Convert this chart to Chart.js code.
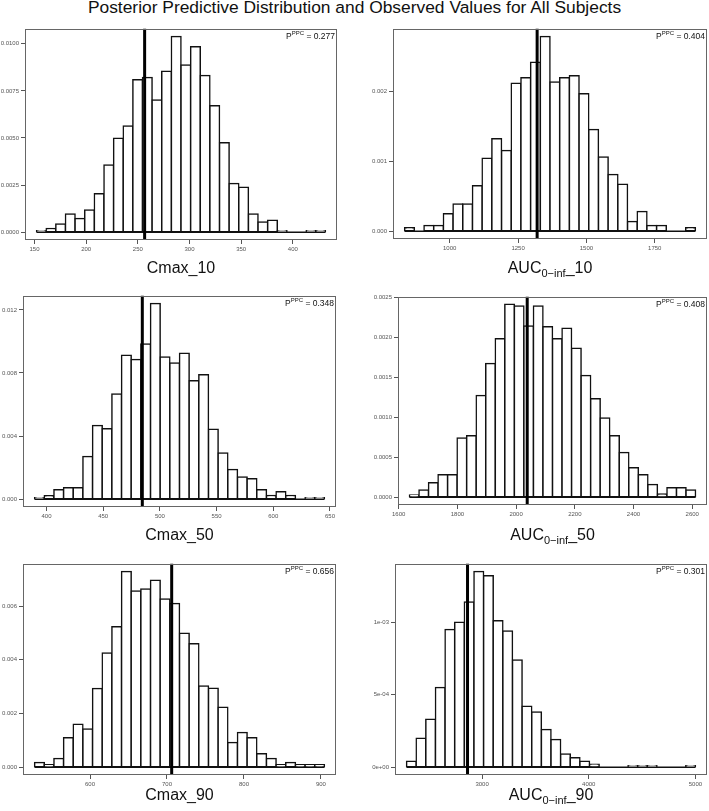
<!DOCTYPE html>
<html>
<head>
<meta charset="utf-8">
<script src="https://cdn.jsdelivr.net/npm/chart.js@4.4.1/dist/chart.umd.min.js"></script>
<style>
html,body{margin:0;padding:0;background:#fff;}
body{width:709px;height:811px;position:relative;overflow:hidden;font-family:"Liberation Sans",Arial,sans-serif;}
#title{position:absolute;left:0;top:-1px;width:709px;text-align:center;font-size:17.4px;line-height:17.4px;color:#111;white-space:nowrap;}
.lbl{position:absolute;font-size:16px;line-height:16px;color:#111;white-space:nowrap;transform:translateX(-50%);}
.lbl sub{font-size:11px;line-height:11px;vertical-align:baseline;position:relative;top:4px;}
</style>
</head>
<body>
<div id="title">Posterior Predictive Distribution and Observed Values for All Subjects</div>
<script>
// ---------- DATA ----------
const panelTitles = ['Cmax_10', 'AUC<sub>0\u2212inf</sub>_10', 'Cmax_50', 'AUC<sub>0\u2212inf</sub>_50', 'Cmax_90', 'AUC<sub>0\u2212inf</sub>_90'];

// histogram densities (30 equal-width bins each)
const cmax10Density = [0.00007,0.0002,0.00043,0.00096,0.00073,0.00118,0.00204,0.00357,0.00498,0.00563,0.00809,0.00821,0.00702,0.00854,0.01039,0.00888,0.00984,0.00832,0.00671,0.00475,0.00259,0.00239,0.00096,0.00054,0.00063,0.00007,0,0,0.00007,0.00007];
const auc10Density  = [0.00005,0,0.00008,0.00008,0.00025,0.00039,0.00039,0.00065,0.00104,0.00132,0.00115,0.00211,0.00219,0.00241,0.00278,0.00213,0.00219,0.00222,0.00196,0.00145,0.00106,0.00081,0.00067,0.00014,0.00028,0.00008,0.00008,0,0,0.00005];
const cmax50Density = [0.00009,0.00021,0.0006,0.00072,0.00072,0.00271,0.00467,0.00446,0.00667,0.00913,0.00885,0.00983,0.01241,0.00902,0.00864,0.00925,0.0075,0.00789,0.00443,0.00292,0.00188,0.00141,0.0013,0.0006,0.00023,0.00047,0.00023,0,0.00009,0.00009];
const auc50Density  = [0.00003,0.00009,0.00018,0.00028,0.00028,0.00074,0.00077,0.00127,0.00167,0.00198,0.00241,0.00239,0.00214,0.00239,0.00213,0.00198,0.00211,0.00186,0.00152,0.00123,0.00099,0.00077,0.00056,0.00037,0.00028,0.00016,0.00004,0.00012,0.00012,0.00009];
const cmax90Density = [0.000175,0.00009,0.00032,0.0011,0.0016,0.00142,0.00293,0.00425,0.00523,0.00729,0.00656,0.00664,0.00696,0.00626,0.0061,0.00499,0.0046,0.00302,0.00294,0.00223,0.00092,0.00129,0.0011,0.0005,0.00032,0.00009,0.00017,0.00009,0.00009,0.00009];
const auc90Density  = [0.00004,0.0002,0.00033,0.00055,0.00095,0.001,0.00114,0.00135,0.00132,0.00101,0.00094,0.00074,0.00042,0.00038,0.00026,0.00019,0.00009,0.000065,0.00004,0.00002,0,0,0,0.00001,0.00001,0.00001,0,0,0,0.00001];

// first break and bin width of each histogram
const binStarts = [152, 835.1, 389.5, 1636.6, 528, 2292];
const binWidths = [9.32, 35.45, 8.52, 32.49, 12.55, 90.27];
// observed values (vertical line)
const observedValues = [256.6, 1319.8, 484.5, 2037.8, 706.1, 2863.5];
// posterior predictive p-values
const ppcValues = ['0.277', '0.404', '0.348', '0.408', '0.656', '0.301'];

// tick values and labels
const cmax10XTicks = [150,200,250,300,350,400];
const cmax10XLabels = ['150','200','250','300','350','400'];
const cmax10YTicks = [0,0.0025,0.005,0.0075,0.01];
const cmax10YLabels = ['0.0000','0.0025','0.0050','0.0075','0.0100'];

const auc10XTicks = [1000,1250,1500,1750];
const auc10XLabels = ['1000','1250','1500','1750'];
const auc10YTicks = [0,0.001,0.002];
const auc10YLabels = ['0.000','0.001','0.002'];

const cmax50XTicks = [400,450,500,550,600,650];
const cmax50XLabels = ['400','450','500','550','600','650'];
const cmax50YTicks = [0,0.004,0.008,0.012];
const cmax50YLabels = ['0.000','0.004','0.008','0.012'];

const auc50XTicks = [1600,1800,2000,2200,2400,2600];
const auc50XLabels = ['1600','1800','2000','2200','2400','2600'];
const auc50YTicks = [0,0.0005,0.001,0.0015,0.002,0.0025];
const auc50YLabels = ['0.0000','0.0005','0.0010','0.0015','0.0020','0.0025'];

const cmax90XTicks = [600,700,800,900];
const cmax90XLabels = ['600','700','800','900'];
const cmax90YTicks = [0,0.002,0.004,0.006];
const cmax90YLabels = ['0.000','0.002','0.004','0.006'];

const auc90XTicks = [3000,4000,5000];
const auc90XLabels = ['3000','4000','5000'];
const auc90YTicks = [0,0.0005,0.001];
const auc90YLabels = ['0e+00','5e-04','1e-03'];

// ---------- LAYOUT ----------
const panelBoxes = [
  {l:25, t:27, r:337, b:240},
  {l:393, t:27, r:707, b:239},
  {l:23, t:294, r:336, b:507},
  {l:398, t:295, r:707, b:505},
  {l:23, t:562, r:336, b:775},
  {l:395, t:562, r:707, b:775}
];
const labelBaselines = [273, 273, 540, 540, 800, 800];

Chart.defaults.font.family = '"Liberation Sans", Arial, sans-serif';

const framePlugin = {
  id: 'frame',
  afterDraw(chart, args, opts) {
    const ctx = chart.ctx, a = chart.chartArea;
    ctx.save();
    ctx.strokeStyle = '#666';
    ctx.lineWidth = 1;
    ctx.strokeRect(Math.round(a.left) + 0.5, Math.round(a.top) + 0.5,
                   Math.round(a.right - a.left) - 1, Math.round(a.bottom - a.top) - 1);
    const main = '8.5px "Liberation Sans"', sup = '6px "Liberation Sans"';
    const tail = ' = ' + opts.ppc;
    ctx.font = main; const wT = ctx.measureText(tail).width; const wP = ctx.measureText('P').width;
    ctx.font = sup; const wS = ctx.measureText('PPC').width;
    const base = a.top + 10;
    let x = a.right - 2 - wT - wS - wP;
    ctx.fillStyle = '#111';
    ctx.textAlign = 'left';
    ctx.textBaseline = 'alphabetic';
    ctx.font = main; ctx.fillText('P', x, base); x += wP;
    ctx.font = sup; ctx.fillText('PPC', x, base - 3.5); x += wS;
    ctx.font = main; ctx.fillText(tail, x, base);
    ctx.restore();
  }
};

function makePanel(i, density, xt, xl, yt, yl) {
  const box = panelBoxes[i];
  const padL = 40, padT = 4, padR = 4, padB = 20;
  const W = box.r - box.l + padL + padR, H = box.b - box.t + padT + padB;
  const canvas = document.createElement('canvas');
  canvas.width = W; canvas.height = H;
  canvas.style.cssText = 'position:absolute;left:' + (box.l - padL) + 'px;top:' + (box.t - padT) + 'px;width:' + W + 'px;height:' + H + 'px;';
  document.body.appendChild(canvas);

  const start = binStarts[i], width = binWidths[i], n = density.length;
  const end = start + n * width, span = end - start;
  const xMin = start - 0.04 * span, xMax = end + 0.04 * span;
  const top = Math.max.apply(null, density);
  const yMin = -0.04 * top, yMax = 1.04 * top;
  const bars = density.map((d, k) => ({x: start + (k + 0.5) * width, y: d}));
  const obs = observedValues[i];

  const tickFont = {size: 6, family: '"Liberation Sans", Arial, sans-serif'};
  new Chart(canvas, {
    type: 'bar',
    data: {
      datasets: [
        {type: 'line', data: [{x: obs, y: yMin}, {x: obs, y: yMax}], borderColor: '#000', borderWidth: 3, pointRadius: 0, order: 0},
        {type: 'line', data: [{x: start, y: 0}, {x: end, y: 0}], borderColor: '#111', borderWidth: 1.5, pointRadius: 0, order: 1},
        {type: 'bar', data: bars, backgroundColor: '#fff', borderColor: '#111', borderWidth: 1.5,
         borderSkipped: false, inflateAmount: 0.75, barPercentage: 1, categoryPercentage: 1, order: 2}
      ]
    },
    options: {
      responsive: false, animation: false, devicePixelRatio: 1, events: [],
      layout: {padding: {left: 0, top: padT, right: padR, bottom: 0}},
      plugins: {legend: {display: false}, tooltip: {enabled: false}, frame: {ppc: ppcValues[i]}},
      scales: {
        x: {
          type: 'linear', min: xMin, max: xMax, offset: false, bounds: 'data',
          grid: {display: true, offset: false, drawOnChartArea: false, drawTicks: true, tickLength: 4, color: '#555', lineWidth: 1},
          border: {display: false},
          ticks: {autoSkip: false, maxRotation: 0, font: tickFont, color: '#555', padding: 2, callback: (v, k) => xl[k]},
          afterBuildTicks: (ax) => { ax.ticks = xt.map(v => ({value: v})); },
          afterFit: (ax) => { ax.height = padB; }
        },
        y: {
          type: 'linear', min: yMin, max: yMax, bounds: 'data',
          grid: {display: true, drawOnChartArea: false, drawTicks: true, tickLength: 4, color: '#555', lineWidth: 1},
          border: {display: false},
          ticks: {autoSkip: false, font: tickFont, color: '#555', padding: 2, callback: (v, k) => yl[k]},
          afterBuildTicks: (ax) => { ax.ticks = yt.map(v => ({value: v})); },
          afterFit: (ax) => { ax.width = padL; }
        }
      }
    },
    plugins: [framePlugin]
  });

  const lbl = document.createElement('div');
  lbl.className = 'lbl';
  lbl.innerHTML = panelTitles[i];
  lbl.style.left = ((box.l + box.r) / 2) + 'px';
  lbl.style.top = (labelBaselines[i] - 13.5) + 'px';
  document.body.appendChild(lbl);
}

makePanel(0, cmax10Density, cmax10XTicks, cmax10XLabels, cmax10YTicks, cmax10YLabels);
makePanel(1, auc10Density, auc10XTicks, auc10XLabels, auc10YTicks, auc10YLabels);
makePanel(2, cmax50Density, cmax50XTicks, cmax50XLabels, cmax50YTicks, cmax50YLabels);
makePanel(3, auc50Density, auc50XTicks, auc50XLabels, auc50YTicks, auc50YLabels);
makePanel(4, cmax90Density, cmax90XTicks, cmax90XLabels, cmax90YTicks, cmax90YLabels);
makePanel(5, auc90Density, auc90XTicks, auc90XLabels, auc90YTicks, auc90YLabels);
</script>
</body>
</html>
